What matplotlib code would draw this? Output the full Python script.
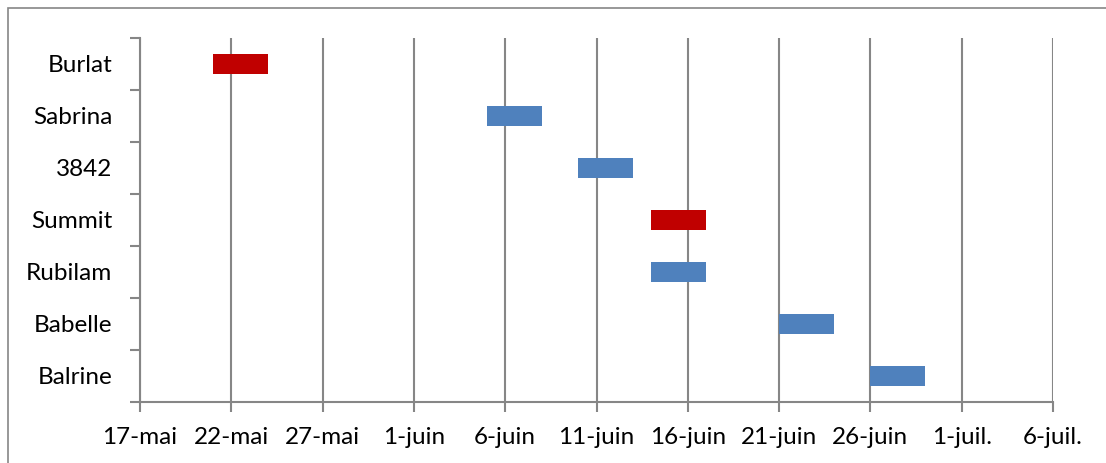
import numpy as np
import matplotlib.pyplot as plt
import matplotlib.dates as mdates
from matplotlib.patches import Rectangle

# varietes, date de debut et duree (jours)
varietes = ["Burlat", "Sabrina", "3842", "Summit", "Rubilam", "Babelle", "Balrine"]
debut = ["2013-05-21", "2013-06-05", "2013-06-10", "2013-06-14", "2013-06-14", "2013-06-21", "2013-06-26"]
duree = [3, 3, 3, 3, 3, 3, 3]
couleurs = ["#C00000", "#4F81BD", "#4F81BD", "#C00000", "#4F81BD", "#4F81BD", "#4F81BD"]

tick_dates = ["2013-05-17", "2013-05-22", "2013-05-27", "2013-06-01", "2013-06-06", "2013-06-11",
              "2013-06-16", "2013-06-21", "2013-06-26", "2013-07-01", "2013-07-06"]
tick_labels = ["17-mai", "22-mai", "27-mai", "1-juin", "6-juin", "11-juin",
               "16-juin", "21-juin", "26-juin", "1-juil.", "6-juil."]

plt.rcParams['font.family'] = ['Lato', 'DejaVu Sans']

fig = plt.figure(figsize=(11.06, 4.63), dpi=100)
W, H = 1106, 463
ax = fig.add_axes([140 / W, 1 - 402 / H, (1053 - 140) / W, (402 - 38) / H])

# cadre du graphique
fig.patches.append(Rectangle((8 / W, -0.1), 1.2, 1 - 8 / H + 0.1, transform=fig.transFigure,
                             fill=False, edgecolor="#868686", linewidth=1.2))

starts = mdates.datestr2num(debut)
ypos = np.arange(len(varietes))[::-1]
ax.barh(ypos, duree, left=starts, height=0.38, color=couleurs, zorder=3)

ticks = mdates.datestr2num(tick_dates)
ax.set_xlim(ticks[0], ticks[-1])
ax.set_xticks(ticks)
ax.set_xticklabels(tick_labels, fontsize=17.5)
ax.set_ylim(-0.5, len(varietes) - 0.5)
ax.set_yticks(ypos)
ax.set_yticklabels(varietes, fontsize=17.5)
ax.set_yticks(np.arange(len(varietes) + 1) - 0.5, minor=True)

ax.grid(axis="x", color="#868686", linewidth=1.5, zorder=0)
for s in ["top", "right"]:
    ax.spines[s].set_visible(False)
for s in ["left", "bottom"]:
    ax.spines[s].set_color("#868686")
    ax.spines[s].set_linewidth(1.5)

ax.tick_params(axis="y", which="major", length=0, pad=20)
ax.tick_params(axis="y", which="minor", length=7, width=1.5, color="#868686")
ax.tick_params(axis="x", length=7, width=1.5, color="#868686", pad=11)

fig.savefig("out.png", dpi=100)
